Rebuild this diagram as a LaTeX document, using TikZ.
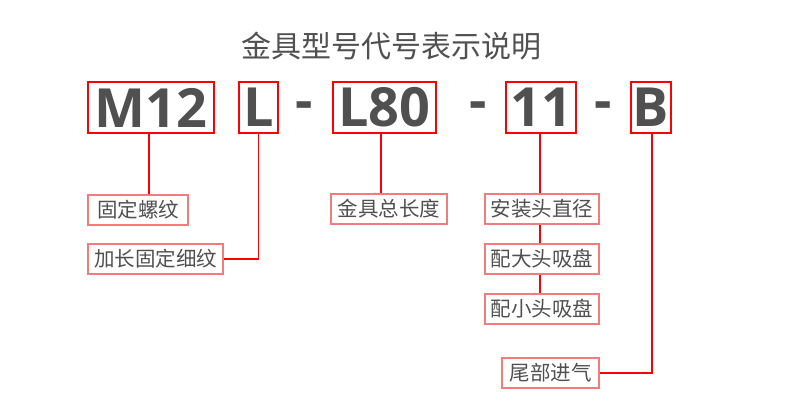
\documentclass[tikz,border=0pt]{standalone}
\usepackage{fontspec}
\newfontfamily\cjk{Noto Sans CJK SC}
\newfontfamily\osans{Open Sans}
\definecolor{txt}{HTML}{505050}
\definecolor{lred}{HTML}{F27C7C}
\tikzset{
  codebox/.style={draw=red, line width=1.5pt, minimum height=51pt, inner sep=0pt,
    text=txt, font=\osans\bfseries\fontsize{54}{54}\selectfont},
  dashmark/.style={inner sep=0pt, text=txt, font=\osans\bfseries\fontsize{54}{54}\selectfont},
  labelbox/.style={draw=lred, line width=1.4pt, minimum height=30pt, inner sep=0pt,
    text=txt, font=\cjk\fontsize{20.5}{20.5}\selectfont},
  conn/.style={draw=red, line width=1.5pt},
}
\begin{document}
\begin{tikzpicture}[x=1pt,y=-1pt]
\useasboundingbox (0,0) rectangle (790,405);
\node[text=txt, font=\cjk\fontsize{30}{30}\selectfont] (title) at (391,46) {金具型号代号表示说明};
% code boxes
\node[codebox, minimum width=126pt] (m12) at (151,107.5) {M12};
\node[codebox, minimum width=39pt] (L) at (258.5,107.5) {L};
\node[codebox, minimum width=103pt] (l80) at (384.5,107.5) {L80};
\node[codebox, minimum width=70pt] (n11) at (541,107.5) {11};
\node[codebox, minimum width=40pt] (B) at (651,107.5) {B};
\node[dashmark] (d1) at (304,111) {-};
\node[dashmark] (d2) at (478,111) {-};
\node[dashmark] (d3) at (603,111) {-};
% label boxes
\node[labelbox, minimum width=100pt] (gd) at (138,210) {固定螺纹};
\node[labelbox, minimum width=135pt] (jc) at (155.5,259) {加长固定细纹};
\node[labelbox, minimum width=116pt] (zc) at (389,209) {金具总长度};
\node[labelbox, minimum width=114pt] (az) at (542,209) {安装头直径};
\node[labelbox, minimum width=114pt] (pd) at (542,259) {配大头吸盘};
\node[labelbox, minimum width=114pt] (px) at (542,309) {配小头吸盘};
\node[labelbox, minimum width=97pt] (wb) at (550.5,373) {尾部进气};
% connectors
\draw[conn] ([xshift=-2pt]m12.south) -- ([xshift=-2pt]m12.south |- gd.north);
\draw[conn] (L.south) |- (jc.east);
\draw[conn] ([xshift=-3.5pt]l80.south) -- ([xshift=-3.5pt]l80.south |- zc.north);
\draw[conn] ([xshift=-1pt]n11.south) -- ([xshift=-1pt]n11.south |- az.north);
\draw[conn] ([xshift=-1pt]n11.south |- az.south) -- ([xshift=-1pt]n11.south |- pd.north);
\draw[conn] ([xshift=-1pt]n11.south |- pd.south) -- ([xshift=-1pt]n11.south |- px.north);
\draw[conn] ([xshift=1pt]B.south) |- (wb.east);
\end{tikzpicture}
\end{document}
